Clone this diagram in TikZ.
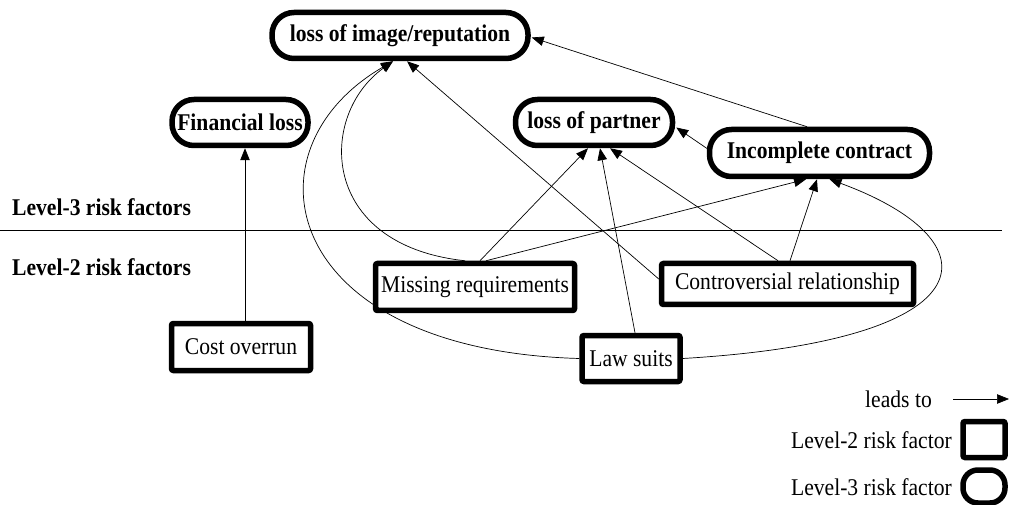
\documentclass[tikz,border=0pt]{standalone}
\usepackage{fontspec}
\setmainfont[FakeStretch=0.9]{Liberation Serif}
\usetikzlibrary{arrows.meta,calc}
\begin{document}
\begin{tikzpicture}[x=1pt,y=-1pt,
  every node/.style={font=\fontsize{24}{27}\selectfont},
  lvthree/.style={draw,line width=5.5pt,rounded corners=22pt,inner sep=0pt,
    font=\fontsize{24}{27}\selectfont\bfseries},
  lvtwo/.style={draw,line width=5.5pt,rounded corners=2pt,inner sep=0pt},
  leads/.style={line width=0.7pt,-{Triangle[length=12pt,width=9.5pt]}},
  levellabel/.style={anchor=west,inner sep=0pt,font=\fontsize{24}{27}\selectfont\bfseries},
  legendtext/.style={anchor=east,inner sep=0pt}]
\useasboundingbox (0,0) rectangle (1010,505);

% level-3 risk factors
\node[lvthree,minimum width=256pt,minimum height=46pt] (img) at (400,35.5) {loss of image/reputation};
\node[lvthree,minimum width=136pt,minimum height=46pt] (fin) at (240,122.5) {Financial loss};
\node[lvthree,minimum width=157pt,minimum height=46pt] (part) at (594,122.5) {loss of partner};
\node[lvthree,minimum width=220pt,minimum height=47pt] (inc) at (819.5,153) {Incomplete contract};

% level-2 risk factors
\node[lvtwo,minimum width=199pt,minimum height=47pt] (mr) at (475,287) {Missing requirements};
\node[lvtwo,minimum width=252pt,minimum height=41pt] (cr) at (787.5,284) {Controversial relationship};
\node[lvtwo,minimum width=98pt,minimum height=46pt] (law) at (631,358.5) {Law suits};
\node[lvtwo,minimum width=139pt,minimum height=47pt] (cost) at (241,347) {Cost overrun};

% separation of the two levels
\node[levellabel] (l3) at (12,207) {Level-3 risk factors};
\node[levellabel] (l2) at (12,267) {Level-2 risk factors};
\coordinate (sepL) at (0,230);
\coordinate (sepR) at (1002,230);
\draw[line width=0.7pt] (sepL) -- (sepR);

% influences
\draw[leads] ($(cost.north)+(4,0)$) -- ($(fin.south)+(5,0)$);
\draw[leads] ($(mr.north)+(5,0)$) -- ($(part.south)+(-6,0)$);
\draw[leads] ($(mr.north)+(11,0)$) -- ($(inc.south)+(-13.5,0)$);
\draw[leads] ($(mr.north)+(-10,0)$) .. controls (318,245) and (318,115) .. ($(img.south)+(-7,0)$);
\draw[leads] (law.west) .. controls (280,350) and (240,150) .. ($(img.south)+(-7,0)$);
\draw[leads] ($(law.north)+(4,0)$) -- ($(part.south)+(6,0)$);
\draw[leads] (law.east) .. controls (995,340) and (995,240) .. ($(inc.south)+(10,0)$);
\draw[leads] ($(cr.north)+(-9.5,0)$) -- ($(part.south)+(16,0)$);
\draw[leads] ($(cr.north)+(2.5,0)$) -- ($(inc.south)+(-2.5,0)$);
\draw[leads] ($(cr.west)+(0,-5)$) -- ($(img.south)+(7,0)$);
\draw[leads] ($(inc.west)+(1,-4)$) -- ($(part.east)+(1,5)$);
\draw[leads] ($(inc.north)+(-12.5,0)$) -- ($(img.east)+(1,2)$);

% legend
\node[legendtext] (kl) at (932,399) {leads to};
\coordinate (ka) at (953,399);
\coordinate (kb) at (1009,399);
\draw[leads] (ka) -- (kb);
\node[legendtext] (k2) at (952,440) {Level-2 risk factor};
\node[lvtwo,minimum width=42pt,minimum height=36pt] (k2box) at (984,439.5) {};
\node[legendtext] (k3) at (952,487) {Level-3 risk factor};
\node[draw,line width=5.5pt,rounded corners=15pt,inner sep=0pt,minimum width=42pt,minimum height=33pt] (k3box) at (984,486.5) {};
\end{tikzpicture}
\end{document}
